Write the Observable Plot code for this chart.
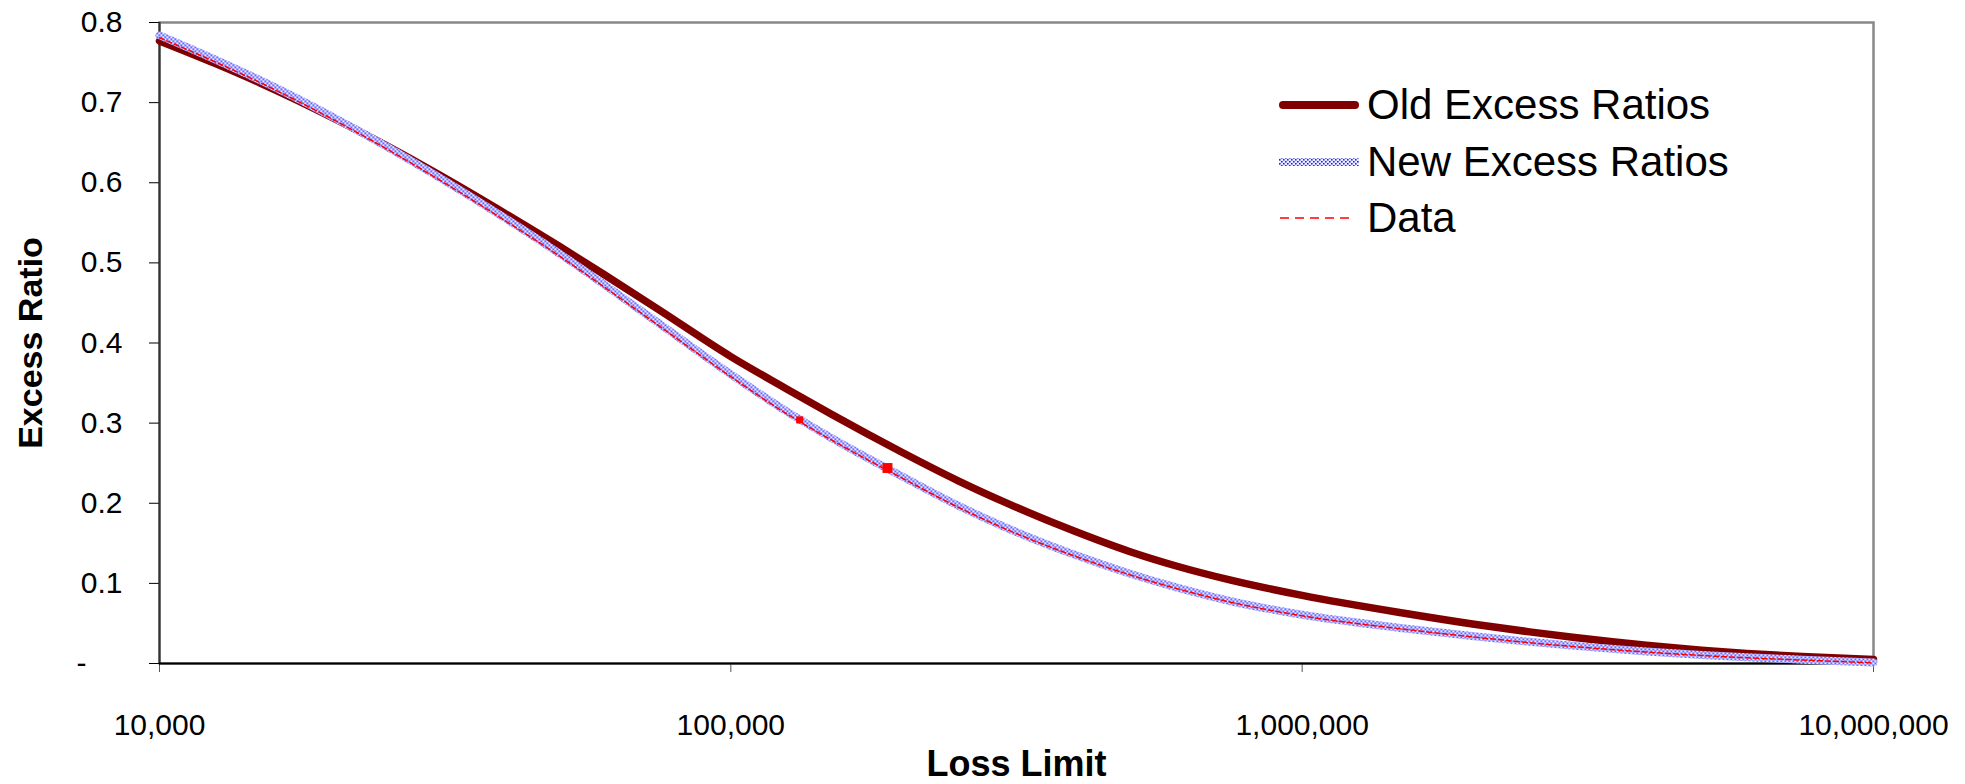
<!DOCTYPE html>
<html>
<head>
<meta charset="utf-8">
<script src="https://cdn.jsdelivr.net/npm/d3@7"></script>
<script src="https://cdn.jsdelivr.net/npm/@observablehq/plot@0.6"></script>
<style>
  body { margin: 0; background: white; }
  #wrap { position: relative; width: 1965px; height: 784px; font-family: "Liberation Sans", Arial, sans-serif; }
  #legend { position: absolute; left: 1279px; top: 77px; font-size: 42px; color: black; }
  #legend .row { display: flex; align-items: center; height: 56.5px; }
  #legend .row span { margin-left: 8px; white-space: nowrap; }
</style>
</head>
<body>
<div id="wrap"></div>
<script>
// ---- data ----
const limits = [10000, 12500, 15000, 20000, 25000, 30000, 40000, 50000, 60000, 75000,
  100000, 125000, 150000, 200000, 250000, 300000, 400000, 500000, 600000, 750000,
  1000000, 1500000, 2000000, 2500000, 3000000, 4000000, 5000000, 6000000, 7500000, 10000000];
const oldRatios = [0.777, 0.749, 0.7245, 0.682, 0.646, 0.615, 0.563, 0.521, 0.4855, 0.441,
  0.383, 0.343, 0.311, 0.263, 0.228, 0.202, 0.165, 0.1395, 0.122, 0.104,
  0.085, 0.063, 0.049, 0.0395, 0.0324, 0.0228, 0.0167, 0.0126, 0.0087, 0.005];
const newRatios = [0.784, 0.754, 0.728, 0.683, 0.645, 0.612, 0.557, 0.512, 0.473, 0.424,
  0.361, 0.315, 0.2815, 0.233, 0.197, 0.171, 0.1356, 0.112, 0.0952, 0.0777,
  0.0608, 0.0441, 0.0341, 0.0271, 0.022, 0.0151, 0.0107, 0.0077, 0.0048, 0.0013];
const dataRatios = [0.781, 0.751, 0.725, 0.680, 0.642, 0.609, 0.554, 0.509, 0.470, 0.421,
  0.358, 0.312, 0.279, 0.231, 0.195, 0.169, 0.134, 0.1105, 0.094, 0.0765,
  0.0595, 0.043, 0.033, 0.026, 0.021, 0.0143, 0.0100, 0.0071, 0.0043, 0.0008];
const markerLimits = [132000, 188000];
const markerRatios = [0.304, 0.244];
const xTicks = [10000, 100000, 1000000, 10000000];
const yTicks = [0, 0.1, 0.2, 0.3, 0.4, 0.5, 0.6, 0.7, 0.8];
const seriesNames = ["Old Excess Ratios", "New Excess Ratios", "Data"];
const xLabel = "Loss Limit";
const yLabel = "Excess Ratio";

const rows = limits.map((x, i) => ({x, old: oldRatios[i], neu: newRatios[i], data: dataRatios[i]}));
const markers = markerLimits.map((x, i) => ({x, y: markerRatios[i]}));

const chart = Plot.plot({
  width: 1965,
  height: 784,
  marginLeft: 159,
  marginRight: 92,
  marginTop: 22,
  marginBottom: 121,
  style: {fontFamily: "'Liberation Sans', Arial, sans-serif", fontSize: "30px", color: "black", background: "white"},
  x: {type: "log", domain: [1e4, 1e7]},
  y: {domain: [0, 0.8]},
  marks: [
    Plot.frame({stroke: "#888", strokeWidth: 2.5}),
    Plot.axisY({ticks: yTicks, tickSize: 10, tickPadding: 27, label: null, fontSize: 30,
      tickFormat: d => d === 0 ? "-\u2003\u2009" : d.toFixed(1)}),
    Plot.axisX({ticks: xTicks, tickSize: 9, tickPadding: 41, label: null, stroke: "#555", fontSize: 30,
      tickFormat: d3.format(",")}),
    Plot.ruleX([1e4], {stroke: "#333", strokeWidth: 2}),
    Plot.ruleY([0], {stroke: "#000", strokeWidth: 2}),
    Plot.line(rows, {x: "x", y: "old", stroke: "#800000", strokeWidth: 7.5, curve: "monotone-x"}),
    Plot.line(rows, {x: "x", y: "neu", stroke: "url(#dots)", strokeWidth: 8, curve: "monotone-x"}),
    Plot.line(rows, {x: "x", y: "data", stroke: "#ff0000", strokeWidth: 1.5, strokeDasharray: "5,3", curve: "monotone-x"}),
    Plot.dot(markers.slice(0, 1), {x: "x", y: "y", symbol: "square", r: 4, fill: "#ff0000"}),
    Plot.dot(markers.slice(1, 2), {x: "x", y: "y", symbol: "square", r: 5.6, fill: "#ff0000"}),
    Plot.text([yLabel], {text: d => d, frameAnchor: "left", textAnchor: "middle", lineAnchor: "middle",
      dx: -128, rotate: -90, fontWeight: "bold", fontSize: 34}),
    Plot.text([xLabel], {text: d => d, frameAnchor: "bottom", textAnchor: "middle", lineAnchor: "middle",
      dy: 101, fontWeight: "bold", fontSize: 36})
  ]
});

// pattern for the dotted "New Excess Ratios" band
const defs = d3.select(chart).insert("defs", ":first-child");
const pat = defs.append("pattern").attr("id", "dots").attr("patternUnits", "userSpaceOnUse")
  .attr("width", 4).attr("height", 4);
pat.append("rect").attr("width", 4).attr("height", 4).attr("fill", "#ececff");
pat.append("rect").attr("x", 0).attr("y", 0).attr("width", 1.6).attr("height", 1.6).attr("fill", "#2020ff");
pat.append("rect").attr("x", 2).attr("y", 2).attr("width", 1.6).attr("height", 1.6).attr("fill", "#2020ff");

const wrap = document.getElementById("wrap");
wrap.appendChild(chart);

// legend
const legend = document.createElement("div");
legend.id = "legend";
const swatches = [
  '<svg width="80" height="14"><line x1="4" x2="76" y1="7" y2="7" stroke="#800000" stroke-width="8" stroke-linecap="round"/></svg>',
  '<svg width="80" height="14"><rect x="0" y="3" width="80" height="8" fill="url(#dots)"/></svg>',
  '<svg width="80" height="14"><line x1="1" x2="76" y1="7" y2="7" stroke="#ff0000" stroke-width="1.5" stroke-dasharray="9,6"/></svg>'
];
seriesNames.forEach((name, i) => {
  const row = document.createElement("div");
  row.className = "row";
  row.innerHTML = swatches[i] + "<span></span>";
  row.querySelector("span").textContent = name;
  legend.appendChild(row);
});
wrap.appendChild(legend);
</script>
</body>
</html>
